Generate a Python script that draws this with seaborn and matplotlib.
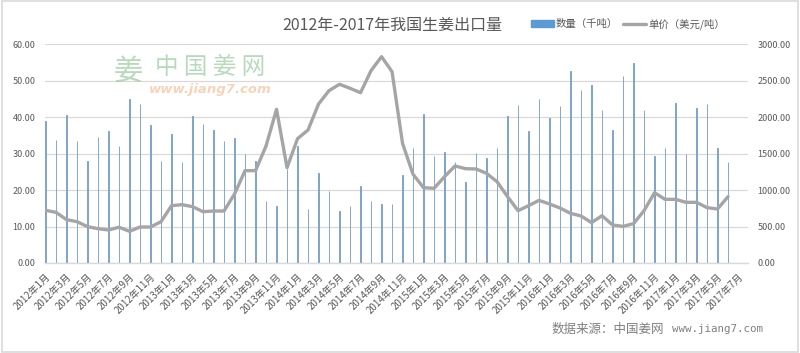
import numpy as np
import pandas as pd
import matplotlib
matplotlib.use("Agg")
import matplotlib.pyplot as plt
import seaborn as sns
from matplotlib.patches import Rectangle
from matplotlib.lines import Line2D
from matplotlib.patches import Patch

years = [2012] * 12 + [2013] * 12 + [2014] * 12 + [2015] * 12 + [2016] * 12 + [2017] * 7
months_num = list(range(1, 13)) * 5 + list(range(1, 8))
month_labels = [f"{y}年{m}月" for y, m in zip(years, months_num)]

qty = [38.9, 33.7, 40.5, 33.3, 28.0, 34.4, 36.3, 32.0, 44.8, 43.6, 37.9, 28.0,
       35.4, 27.6, 40.2, 38.1, 36.4, 33.4, 34.3, 29.9, 28.0, 17.1, 15.7, 25.7,
       32.0, 14.9, 24.7, 19.8, 14.2, 15.6, 21.1, 17.1, 16.3, 16.3, 24.0, 31.6,
       40.8, 29.4, 30.3, 27.8, 22.3, 30.2, 28.8, 31.4, 40.3, 43.3, 36.3, 45.0,
       39.6, 42.9, 52.7, 47.5, 48.9, 41.9, 36.4, 51.2, 54.8, 41.9, 29.3, 31.4,
       43.8, 30.0, 42.4, 43.6, 31.6, 27.8, np.nan]

price = [722, 694, 594, 566, 498, 470, 452, 490, 434, 493, 493, 566,
         785, 799, 772, 703, 712, 712, 945, 1265, 1265, 1603, 2105, 1306,
         1703, 1822, 2178, 2361, 2448, 2393, 2333, 2635, 2826, 2621, 1639, 1215,
         1032, 1023, 1183, 1329, 1292, 1288, 1228, 1114, 909, 717, 785, 858,
         808, 753, 680, 644, 553, 648, 521, 502, 539, 717, 963, 872,
         872, 831, 831, 758, 740, 909, np.nan]

title = "2012年-2017年我国生姜出口量"
qty_name = "数量（千吨）"
price_name = "单价（美元/吨）"
source_cn = "数据来源：中国姜网"
source_url = "www.jiang7.com"

df = pd.DataFrame({"month": month_labels, "qty": qty, "price": price,
                   "idx": np.arange(len(month_labels))})

sns.set_theme(style="white")
plt.rcParams['font.family'] = ['Noto Sans CJK SC', 'DejaVu Sans']

BAR = "#5B9BD5"
BAR_LINE = "#7AA3C8"
LINE = "#A5A5A5"
TXT = "#595959"
GRID = "#D9D9D9"

fig = plt.figure(figsize=(8.0, 3.53), dpi=100)
ax = fig.add_axes([45 / 800, 1 - 263 / 353, 703 / 800, 219 / 353])

sns.barplot(data=df, x="month", y="qty", order=month_labels, color=BAR_LINE,
            width=0.08, ax=ax, errorbar=None, saturation=1,
            edgecolor=BAR_LINE, linewidth=0.65)
ax.set_ylim(0, 60)
ax.set_yticks(np.arange(0, 61, 10))
ax.set_yticklabels([f"{v:.2f}" for v in np.arange(0, 61, 10)], fontsize=6.5, color=TXT)
ax.yaxis.grid(True, color=GRID, linewidth=0.9)
ax.set_axisbelow(True)
ax.set_xlim(-0.05, 66.9)
ax.set_xticks(np.arange(0, len(month_labels), 2))
ax.set_xticklabels(month_labels[::2], rotation=45, ha="right", va="top",
                   rotation_mode="anchor", fontsize=7.0, color=TXT)
ax.tick_params(axis="x", length=0, pad=6)
ax.tick_params(axis="y", length=0, pad=7)
ax.set_xlabel("")
ax.set_ylabel("")
for s in ["top", "left", "right"]:
    ax.spines[s].set_visible(False)
ax.spines["bottom"].set_color(GRID)
ax.spines["bottom"].set_linewidth(1.0)

ax2 = ax.twinx()
sns.lineplot(data=df, x="idx", y="price", color=LINE, linewidth=2.4, ax=ax2)
ax2.set_ylim(0, 3000)
ax2.set_yticks(np.arange(0, 3001, 500))
ax2.set_yticklabels([f"{v:.2f}" for v in np.arange(0, 3001, 500)], fontsize=6.5, color=TXT)
ax2.tick_params(axis="y", length=0, pad=7)
ax2.set_ylabel("")
ax2.set_xlabel("")
for s in ["top", "left", "right", "bottom"]:
    ax2.spines[s].set_visible(False)
ax.set_xlim(-0.05, 66.9)

# title
fig.text(392 / 800, 1 - 25 / 353, title, ha="center", va="center",
         fontsize=11.5, color=TXT)

# legend
handles = [Patch(facecolor=BAR, edgecolor=BAR),
           Line2D([0], [0], color=LINE, linewidth=2.4)]
leg = fig.legend(handles, [qty_name, price_name], loc="center",
                 bbox_to_anchor=(628 / 800, 1 - 24 / 353), ncol=2, frameon=False,
                 fontsize=7.5, handlelength=2.2, handleheight=0.6,
                 columnspacing=0.5, handletextpad=0.2, labelcolor=TXT)

# watermark
fig.text(128 / 800, 1 - 72 / 353, "姜", ha="center", va="center", fontsize=21,
         color="#9ACB9F", alpha=0.7)
fig.text(210 / 800, 1 - 67 / 353, "中 国 姜 网", ha="center", va="center",
         fontsize=17, color="#9ACB9F", alpha=0.7)
fig.text(210 / 800, 1 - 89 / 353, "www.jiang7.com", ha="center", va="center",
         fontsize=9.5, color="#F4C9A8", alpha=0.8, style="italic", weight="bold",
         family=["DejaVu Sans"])

# source
fig.text(552 / 800, 1 - 329 / 353, source_cn, ha="left", va="center",
         fontsize=9, color="#7F7F7F")
fig.text(763 / 800, 1 - 329 / 353, source_url, ha="right", va="center",
         fontsize=7.8, color="#7F7F7F", family=["DejaVu Sans Mono"])

# border
fig.patches.append(Rectangle((0.003, 0.003), 0.994, 0.994, transform=fig.transFigure,
                             fill=False, edgecolor=GRID, linewidth=1.2))

fig.savefig("out.png", dpi=100, facecolor="white")
